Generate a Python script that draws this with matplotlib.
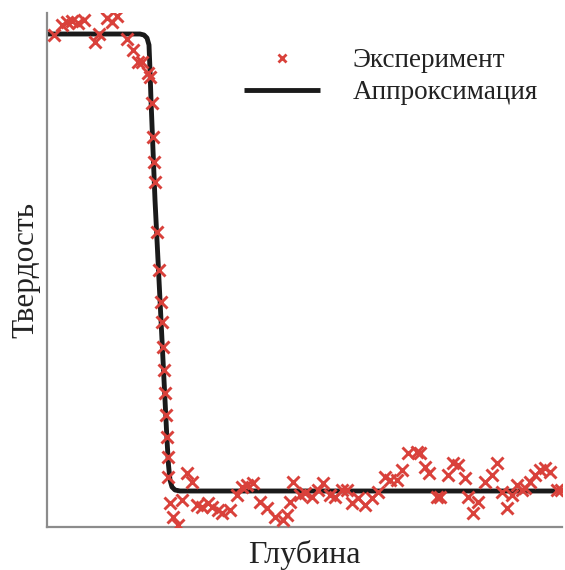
import numpy as np
import matplotlib
matplotlib.use("Agg")
import matplotlib.pyplot as plt
from matplotlib.lines import Line2D

plt.rcParams['font.family'] = ['Liberation Serif', 'DejaVu Serif']

# measured points (depth, hardness), arbitrary units
exp_depth = [7, 15, 20, 25, 31, 37, 52, 48, 60, 65, 70,
             80, 86, 91, 95, 101, 103, 105,
             106, 107, 108, 110, 112, 114, 115, 116, 117, 118, 119, 120,
             121, 121,
             140, 145, 123, 135, 126, 131, 150, 155, 161, 165, 171, 175,
             183, 190, 195, 200, 206, 213, 220, 228, 236, 240, 243, 246,
             253, 258, 265, 271, 276, 283, 288, 295, 300, 305, 311, 318,
             325, 331, 338, 343, 350, 355, 361, 370, 373, 378, 382, 390,
             393, 401, 406, 411, 418, 421, 426, 431, 438, 445, 450, 455,
             460, 465, 470, 475, 478, 483, 488, 493, 498, 503, 510, 514]
exp_hard = [492, 502, 505, 506, 504, 507, 493, 485, 509, 505, 511,
            488, 477, 465, 465, 454, 450, 424,
            390, 365, 345, 295, 257, 225, 205, 180, 157, 134, 112, 90,
            70, 50,
            54, 45, 24, 27, 10, 2, 22, 20, 24, 20, 17, 14,
            17, 32, 40, 42, 44, 25, 19, 10, 7, 12, 25, 45,
            32, 34, 30, 37, 44, 32, 30, 37, 37, 24, 29, 22, 29, 35,
            50, 47, 47, 57, 74, 75, 74, 60, 54, 30, 30, 52, 64, 62,
            49, 30, 14, 25, 45, 52, 64, 35, 19, 32, 42, 37, 39, 45,
            52, 57, 59, 55, 37, 37]

# fitted curve, traced
fit_depth = [0, 93, 97, 100, 102, 103, 104, 108, 113, 118, 120, 121.5,
             123, 125, 128, 133, 515]
fit_hard = [493, 493, 492, 489, 482, 457, 427, 327, 227, 127, 87, 62,
            47, 40, 37, 36, 36]

fig = plt.figure(figsize=(5.65, 5.70), dpi=100)
ax = fig.add_axes([47 / 565, 43 / 570, 515 / 565, 514 / 570])

ax.plot(exp_depth, exp_hard, linestyle="none", marker="x", markersize=8,
        mew=2.1, color="#d9413b", zorder=3)
ax.plot(fit_depth, fit_hard, color="#1a1a1a", lw=3.5, zorder=2,
        solid_capstyle="butt")

ax.set_xlim(0, 515)
ax.set_ylim(0, 514)
ax.set_xticks([])
ax.set_yticks([])
for s in ["top", "right"]:
    ax.spines[s].set_visible(False)
for s in ["left", "bottom"]:
    ax.spines[s].set_color("#8c8c8c")
    ax.spines[s].set_linewidth(1.6)

ax.set_xlabel("Глубина", fontsize=23, color="#222222", labelpad=9)
ax.set_ylabel("Твердость", fontsize=22.5, color="#222222", labelpad=5)

handles = [
    Line2D([], [], linestyle="none", marker="x", markersize=6, mew=2.0,
           color="#d9413b"),
    Line2D([], [], color="#1a1a1a", lw=3.5, solid_capstyle="butt"),
]
leg = ax.legend(handles, ["Эксперимент", "Аппроксимация"], frameon=False,
                fontsize=19.5, loc="upper left",
                bbox_to_anchor=(220 / 565, 1 - 24 / 570),
                bbox_transform=fig.transFigure,
                handlelength=2.8, handletextpad=1.2, labelspacing=0.25)
for t in leg.get_texts():
    t.set_color("#222222")

fig.savefig("out.png", dpi=100)
